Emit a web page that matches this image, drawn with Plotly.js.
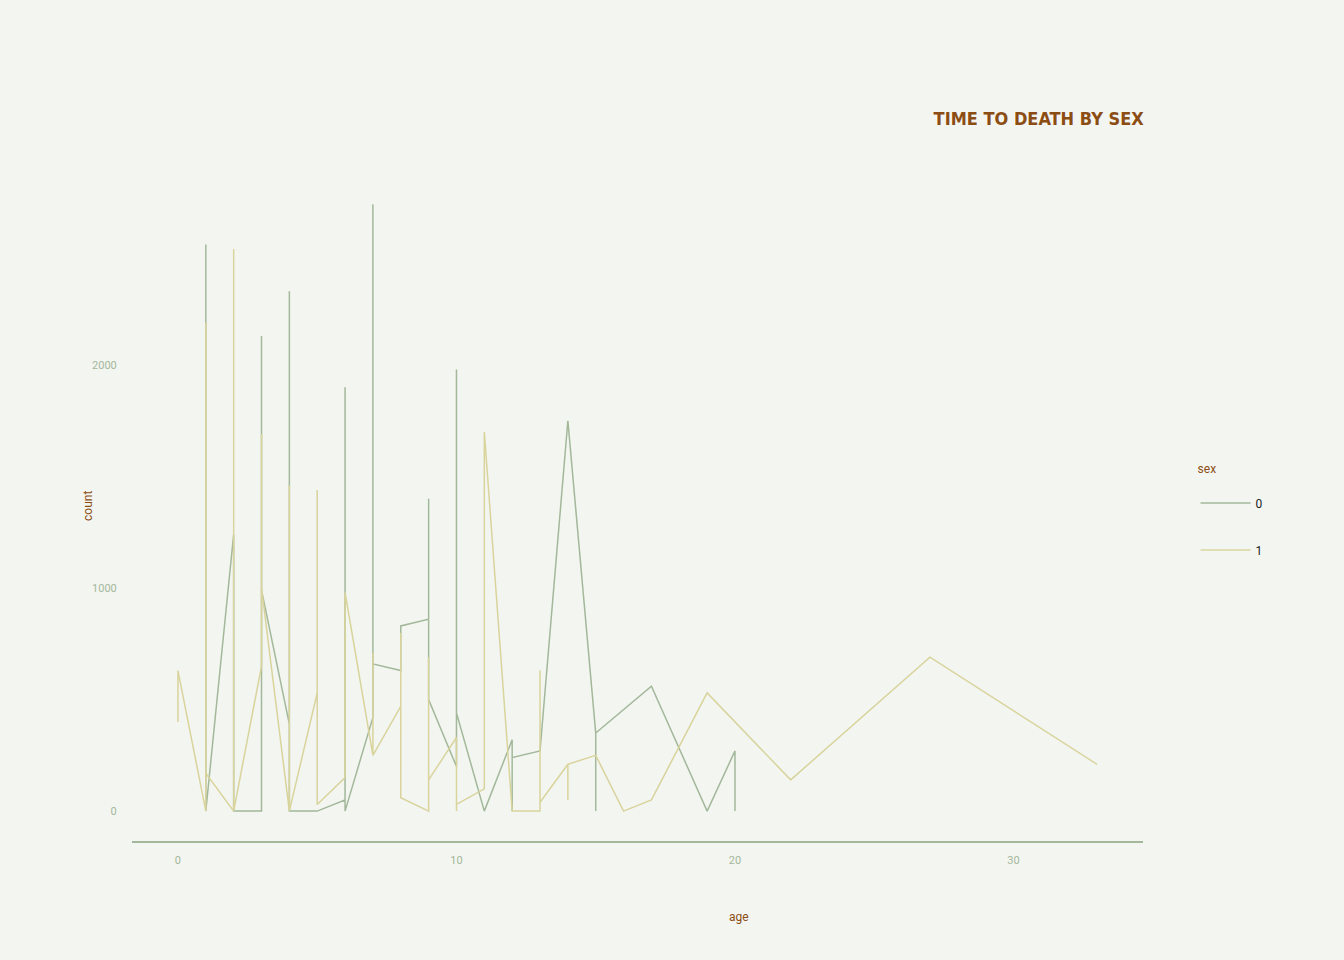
<!DOCTYPE html>
<html>
<head>
<meta charset="utf-8">
<script src="https://cdn.plot.ly/plotly-3.0.1.min.js"></script>
<style>body{margin:0;background:#f3f5f1}</style>
</head>
<body>
<div id="chart"></div>
<script>
const SEX_LABELS = ["0", "1"];
const AGE_0 = [1, 1, 1, 2, 2, 3, 3, 3, 3, 4, 4, 4, 5, 6, 6, 6, 7, 7, 7, 8, 8, 9, 9, 9, 10, 10, 10, 11, 12, 12, 12, 13, 14, 15, 15, 15, 17, 19, 20, 20];
const COUNT_0 = [0, 2540, 0, 1240, 0, 0, 2130, 990, 990, 390, 2330, 0, 0, 50, 1900, 0, 420, 2720, 660, 630, 830, 860, 1400, 500, 200, 1980, 440, 0, 320, 0, 240, 270, 1750, 350, 0, 350, 560, 0, 270, 0];
const AGE_1 = [0, 0, 1, 1, 1, 2, 2, 2, 3, 3, 3, 4, 4, 4, 5, 5, 5, 6, 6, 6, 7, 7, 7, 8, 8, 8, 9, 9, 9, 10, 10, 10, 11, 11, 11, 12, 13, 13, 13, 14, 14, 14, 15, 16, 17, 19, 22, 27, 33];
const COUNT_1 = [400, 630, 0, 2190, 170, 0, 2520, 0, 650, 1690, 1000, 0, 1460, 0, 530, 1440, 30, 150, 980, 980, 250, 710, 250, 470, 800, 60, 0, 690, 140, 330, 0, 30, 100, 1700, 1700, 0, 0, 630, 40, 210, 50, 210, 250, 0, 50, 530, 140, 690, 210];
const COLORS = ["#a3b89a", "#d9d49c"];
const BROWN = "#8b4d13";

const traces = [[AGE_0, COUNT_0], [AGE_1, COUNT_1]].map(([x, y], i) => ({
  x, y,
  mode: "lines",
  name: SEX_LABELS[i],
  legendgroup: "g" + i,
  line: { color: COLORS[i], width: 1.5 },
}));

const layout = {
  width: 1344, height: 960,
  margin: { l: 132, r: 201, t: 170, b: 119 },
  paper_bgcolor: "#f3f5f1",
  plot_bgcolor: "#f3f5f1",
  font: { family: "Roboto, sans-serif", color: BROWN, size: 12 },
  title: {
    text: "TIME TO DEATH BY SEX",
    x: 0.851, xanchor: "right", y: 0.883,
    font: { family: "DejaVu Sans Condensed, sans-serif", size: 18, color: BROWN, weight: "bold" },
  },
  xaxis: {
    range: [-1.65, 34.65],
    tickvals: [0, 10, 20, 30],
    tickfont: { size: 11, color: "#a3b89a" },
    ticks: "outside", ticklen: 8, tickcolor: "rgba(0,0,0,0)",
    showgrid: false, zeroline: false,
    showline: true, linecolor: "#a3b89a", linewidth: 1.5,
  },
  yaxis: {
    range: [-134, 2874],
    tickvals: [0, 1000, 2000],
    tickfont: { size: 11, color: "#a3b89a" },
    ticks: "outside", ticklen: 12, tickcolor: "rgba(0,0,0,0)",
    showgrid: false, zeroline: false,
  },
  annotations: [
    { text: "age", xref: "paper", yref: "paper", x: 0.6, y: -0.127, showarrow: false, font: { size: 12, color: BROWN } },
    { text: "count", xref: "paper", yref: "paper", x: -0.053, y: 0.5, textangle: -90, showarrow: false, font: { size: 12, color: BROWN } },
  ],
  legend: {
    x: 1.052, y: 0.572, xanchor: "left", yanchor: "top",
    title: { text: "sex<br> ", font: { size: 12, color: BROWN } },
    font: { size: 12, color: "#222" },
    tracegroupgap: 28,
    itemwidth: 50,
  },
  showlegend: true,
};

Plotly.newPlot("chart", traces, layout, { displayModeBar: false });
</script>
</body>
</html>
